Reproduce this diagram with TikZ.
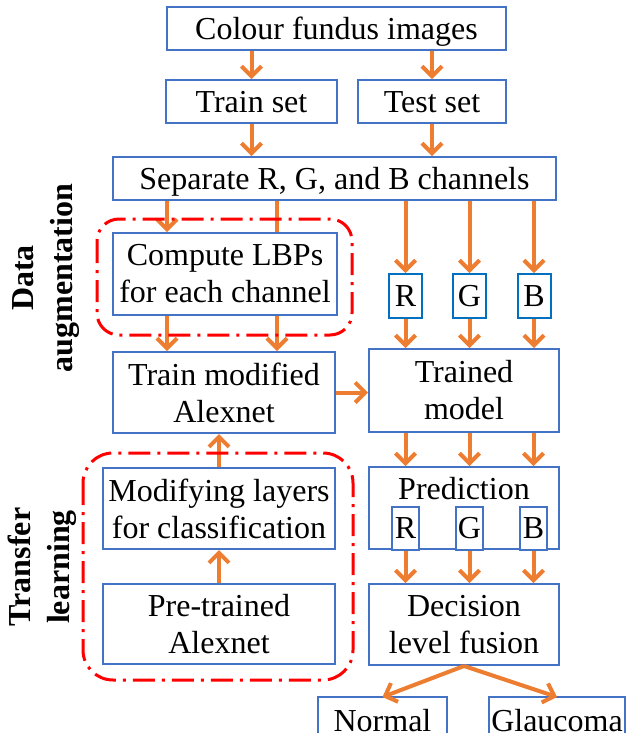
\documentclass[tikz,border=0pt]{standalone}
\usepackage{fontspec}
\setmainfont{Liberation Serif}
\usetikzlibrary{arrows.meta}
\definecolor{boxblue}{HTML}{4472C4}
\definecolor{smallblue}{HTML}{0070C0}
\definecolor{arrorange}{HTML}{ED7D31}
\definecolor{dashred}{HTML}{FF0000}
\begin{document}
\begin{tikzpicture}[x=1pt,y=-1pt,
 box/.style={draw=boxblue, line width=2pt, fill=white, align=center, inner sep=0pt, font=\fontsize{32}{37}\selectfont},
 one/.style={text height=22pt, text depth=0pt},
 sbox/.style={draw=smallblue, line width=2pt, fill=white, inner sep=0pt, minimum width=33pt, minimum height=44pt, font=\fontsize{32}{37}\selectfont},
 ibox/.style={draw=boxblue, line width=2pt, fill=white, inner sep=0pt, minimum width=27pt, minimum height=43pt, font=\fontsize{32}{37}\selectfont},
 openbox/.style={draw=none, fill=white, inner sep=0pt, anchor=north, text height=34pt, text depth=6pt, font=\fontsize{32}{37}\selectfont},
 boxline/.style={draw=boxblue, line width=2pt},
 arr/.style={draw=arrorange, line width=4pt, -{Straight Barb[length=10pt,width=20pt]}},
 plainline/.style={draw=arrorange, line width=4pt},
 group/.style={draw=dashred, line width=3pt, dash pattern=on 22pt off 7pt on 3pt off 7pt},
 side/.style={rotate=90, align=center, font=\bfseries\fontsize{32}{39}\selectfont, inner sep=0pt}]
\useasboundingbox (0,0) rectangle (627,737);
\clip (0,0) rectangle (627,737);

% boxes
\node[box, one, minimum width=339pt, minimum height=43pt] (colour) at (336.5,28) {Colour fundus images};
\node[box, one, minimum width=171pt, minimum height=43pt] (train) at (251.5,101.5) {Train set};
\node[box, one, minimum width=148pt, minimum height=43pt] (test) at (432,101.5) {Test set};
\node[box, one, minimum width=443pt, minimum height=43pt] (sep) at (334.5,178.5) {Separate R, G, and B channels};
\node[box, minimum width=224pt, minimum height=82pt] (lbp) at (225,274) {Compute LBPs\\for each channel};
\node[box, minimum width=222pt, minimum height=81pt] (trainmod) at (224,392.5) {Train modified\\Alexnet};
\node[sbox] (R1) at (405.5,296) {R};
\node[sbox] (G1) at (469.5,296) {G};
\node[sbox] (B1) at (534,296) {B};
\node[box, minimum width=190pt, minimum height=83pt] (trained) at (464,390.5) {Trained\\model};
\node[box, minimum width=232pt, minimum height=81pt] (modif) at (219,508.5) {Modifying layers\\for classification};
\node[box, minimum width=232pt, minimum height=80pt] (pre) at (219,624) {Pre-trained\\Alexnet};
\node[box, minimum width=190pt, minimum height=82pt] (pred) at (464,508) {};
\node[font=\fontsize{32}{37}\selectfont, inner sep=0pt] (predtext) at (464,489) {Prediction};
\node[ibox] (R2) at (405.5,528.5) {R};
\node[ibox] (G2) at (469.5,528.5) {G};
\node[ibox] (B2) at (533.5,528.5) {B};
\node[box, minimum width=190pt, minimum height=81pt] (dec) at (464,624.5) {Decision\\level fusion};
\node[openbox, minimum width=129pt] (normal) at (382.5,697) {Normal};
\node[openbox, minimum width=136pt] (glaucoma) at (557,697) {Glaucoma};
\draw[boxline] ([yshift=4pt]normal.south west) -- (normal.north west) -- (normal.north east) -- ([yshift=4pt]normal.south east);
\draw[boxline] ([yshift=4pt]glaucoma.south west) -- (glaucoma.north west) -- (glaucoma.north east) -- ([yshift=4pt]glaucoma.south east);

% side labels
\node[side] (da) at (46,278) {Data\\augmentation};
\node[side] (tl) at (42,567) {Transfer\\learning};

% connectors
\coordinate (c1) at (167,0);
\coordinate (c2) at (277,0);
\draw[arr] (train.north |- colour.south) -- (train.north);
\draw[arr] (test.north |- colour.south) -- (test.north);
\draw[arr] (train.south) -- (train.south |- sep.north);
\draw[arr] (test.south) -- (test.south |- sep.north);
\draw[arr] (c1 |- sep.south) -- (c1 |- lbp.north);
\draw[plainline] (c2 |- sep.south) -- (c2 |- lbp.north);
\draw[arr] (c1 |- lbp.south) -- (c1 |- trainmod.north);
\draw[arr] (c2 |- lbp.south) -- (c2 |- trainmod.north);
\foreach \n in {R1,G1,B1}{
  \draw[arr] (\n.north |- sep.south) -- (\n.north);
  \draw[arr] (\n.south) -- (\n.south |- trained.north);
}
\foreach \n in {R2,G2,B2}{
  \draw[arr] (\n.north |- trained.south) -- (\n.north |- pred.north);
  \draw[arr] (\n.south) -- (\n.south |- dec.north);
}
\draw[arr] (trainmod.east) -- (trainmod.east -| trained.west);
\draw[arr] (pre.north) -- (modif.south);
\draw[arr] (modif.north) -- (modif.north |- trainmod.south);
\draw[arr] (dec.south) -- (normal.north);
\draw[arr] (dec.south) -- (glaucoma.north);

% groups
\draw[group, rounded corners=22pt] (97,219) rectangle (352,335);
\draw[group, rounded corners=30pt] (83,453) rectangle (353,680);
\end{tikzpicture}
\end{document}
